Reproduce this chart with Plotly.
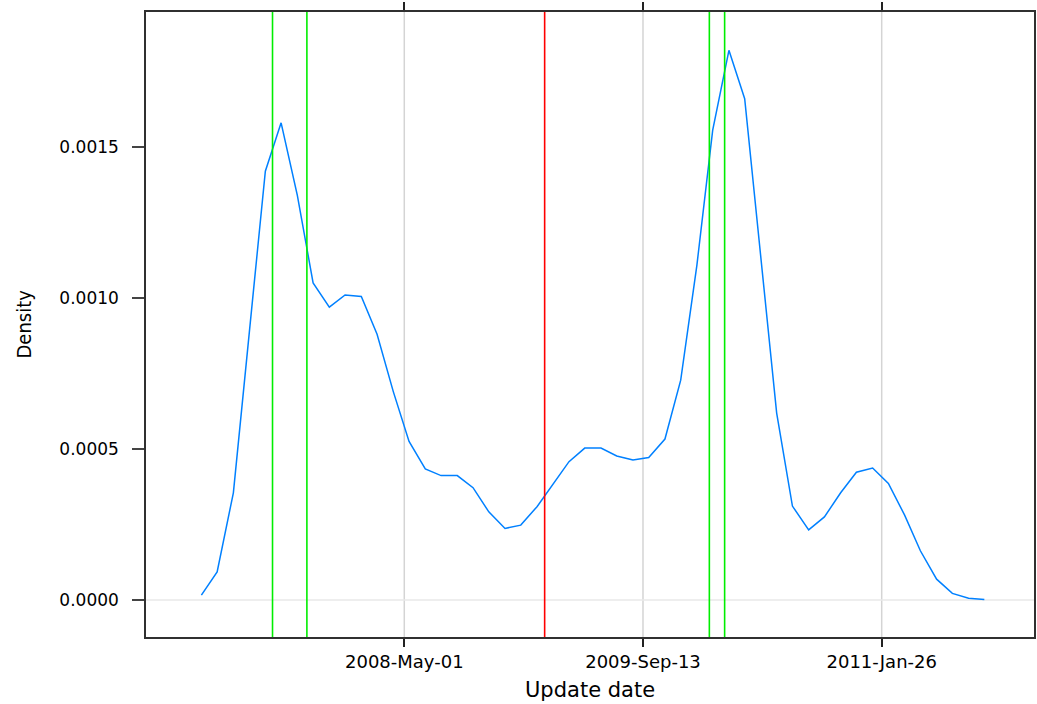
import plotly.graph_objects as go

# Kernel density of update dates, evaluated on a regular date grid
update_dates = [
    "2007-03-03", "2007-04-05", "2007-05-09", "2007-06-11", "2007-07-15",
    "2007-08-17", "2007-09-20", "2007-10-23", "2007-11-26", "2007-12-29",
    "2008-02-01", "2008-03-05", "2008-04-08", "2008-05-11", "2008-06-14",
    "2008-07-17", "2008-08-20", "2008-09-22", "2008-10-25", "2008-11-28",
    "2008-12-31", "2009-02-03", "2009-03-08", "2009-04-11", "2009-05-14",
    "2009-06-17", "2009-07-20", "2009-08-23", "2009-09-25", "2009-10-29",
    "2009-12-01", "2010-01-04", "2010-02-06", "2010-03-12", "2010-04-14",
    "2010-05-17", "2010-06-20", "2010-07-23", "2010-08-26", "2010-09-28",
    "2010-11-01", "2010-12-04", "2011-01-07", "2011-02-09", "2011-03-15",
    "2011-04-17", "2011-05-21", "2011-06-23", "2011-07-27", "2011-08-29",
]
density = [
    0.000016, 0.000093, 0.000355, 0.000880, 0.001420,
    0.001580, 0.001340, 0.001050, 0.000970, 0.001010,
    0.001005, 0.000880, 0.000690, 0.000525, 0.000434,
    0.000412, 0.000412, 0.000372, 0.000292, 0.000237,
    0.000248, 0.000309, 0.000383, 0.000458, 0.000503,
    0.000503, 0.000477, 0.000464, 0.000472, 0.000533,
    0.000728, 0.001110, 0.001556, 0.001820, 0.001660,
    0.001140, 0.000619, 0.000311, 0.000232, 0.000275,
    0.000355, 0.000423, 0.000437, 0.000386, 0.000281,
    0.000163, 0.000069, 0.000022, 0.000006, 0.000002,
]

tick_dates = ["2008-05-01", "2009-09-13", "2011-01-26"]
tick_labels = ["2008-May-01", "2009-Sep-13", "2011-Jan-26"]
y_tick_vals = [0.0, 0.0005, 0.0010, 0.0015]
y_tick_labels = ["0.0000", "0.0005", "0.0010", "0.0015"]

# Marked events
green_dates = ["2007-07-30", "2007-10-10", "2010-01-30", "2010-03-03"]
red_dates = ["2009-02-19"]

x_range = ["2006-11-07", "2011-12-11"]
y_range = [-0.0001225, 0.001947]

fig = go.Figure()
fig.add_trace(go.Scatter(
    x=update_dates, y=density, mode="lines",
    line=dict(color="#0080ff", width=1.5),
    hoverinfo="skip", showlegend=False,
))

shapes = []
for d in tick_dates:
    shapes.append(dict(type="line", xref="x", yref="paper", x0=d, x1=d, y0=0, y1=1,
                       line=dict(color="#d4d4d4", width=1.5), layer="below"))
shapes.append(dict(type="line", xref="paper", yref="y", x0=0, x1=1, y0=0, y1=0,
                   line=dict(color="#e8e8e8", width=1.5), layer="below"))
for d in green_dates:
    shapes.append(dict(type="line", xref="x", yref="paper", x0=d, x1=d, y0=0, y1=1,
                       line=dict(color="#00ee00", width=1.6), layer="above"))
for d in red_dates:
    shapes.append(dict(type="line", xref="x", yref="paper", x0=d, x1=d, y0=0, y1=1,
                       line=dict(color="#ff0000", width=1.6), layer="above"))

fig.update_layout(
    width=1037, height=704, autosize=False,
    margin=dict(l=146, r=1, t=12, b=67, pad=0),
    paper_bgcolor="white", plot_bgcolor="white",
    shapes=shapes,
    xaxis=dict(
        type="date", range=x_range,
        tickmode="array", tickvals=tick_dates, ticktext=tick_labels,
        ticks="outside", ticklen=8, tickwidth=1.5, tickcolor="#222222",
        showline=True, linecolor="#303030", linewidth=1.5, mirror="ticks",
        showgrid=False, zeroline=False,
        tickfont=dict(family="DejaVu Sans", size=18, color="#000000"),
    ),
    yaxis=dict(
        range=y_range,
        tickmode="array", tickvals=y_tick_vals, ticktext=y_tick_labels,
        ticks="outside", ticklen=12, tickwidth=1.5, tickcolor="#444444",
        showline=True, linecolor="#303030", linewidth=1.5, mirror=True,
        showgrid=False, zeroline=False,
        tickfont=dict(family="DejaVu Sans", size=17, color="#000000"),
        ticklabelstandoff=10,
    ),
    annotations=[
        dict(text="Update date", xref="paper", yref="paper", x=0.5, y=0,
             xanchor="center", yanchor="middle", yshift=-53, showarrow=False,
             font=dict(family="DejaVu Sans", size=21, color="#000000")),
        dict(text="Density", xref="paper", yref="paper", x=0, y=0.5,
             xanchor="center", yanchor="middle", xshift=-123, textangle=-90,
             showarrow=False,
             font=dict(family="DejaVu Sans Condensed, Liberation Sans", size=20,
                       color="#000000")),
    ],
)

fig.write_html("out.html")
